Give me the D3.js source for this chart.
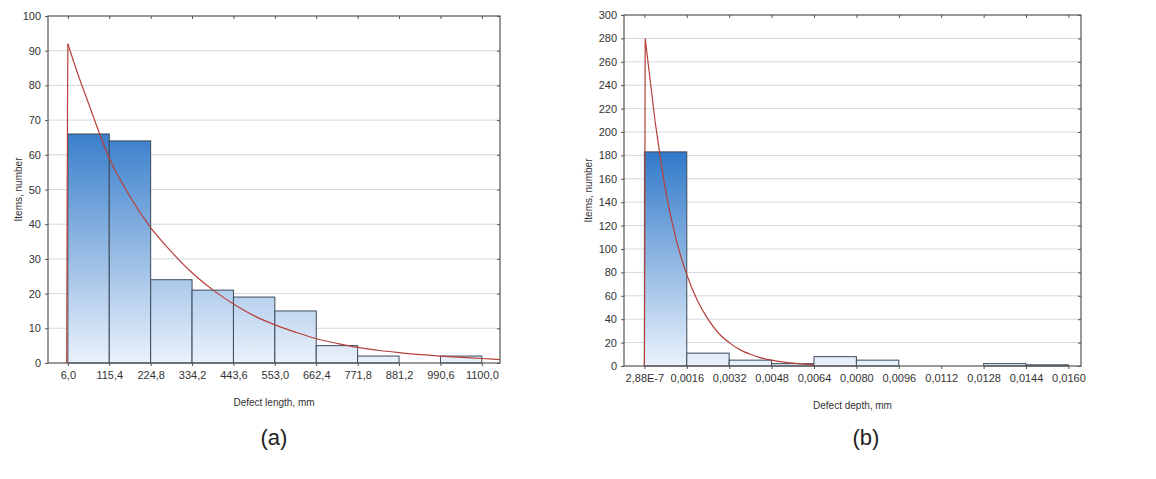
<!DOCTYPE html><html><head><meta charset="utf-8"><script src="https://cdn.jsdelivr.net/npm/d3@7"></script>
<style>body{margin:0;background:#fff}text{font-family:"Liberation Sans",Arial,sans-serif}</style></head><body>
<svg id="c" width="1156" height="479"></svg>
<script>
const ticksA = ["6,0","115,4","224,8","334,2","443,6","553,0","662,4","771,8","881,2","990,6","1100,0"];
const countsA = [66,64,24,21,19,15,5,2,0,2];
const curveA = [[3,0],[4,40],[5,72],[6,92],[30,84],[60,75],[115.4,59],[170,48],[224.8,39],[280,32],[334.2,26],[390,21],[443.6,17],[500,13.5],[553,11],[610,8.8],[662.4,7],[720,5.6],[771.8,4.5],[830,3.6],[881.2,3],[940,2.4],[990.6,2],[1050,1.6],[1100,1.3],[1148,1.0]];
const ticksB = ["2,88E-7","0,0016","0,0032","0,0048","0,0064","0,0080","0,0096","0,0112","0,0128","0,0144","0,0160"];
const countsB = [183,11,5,2,8,5,0,0,2,1];
const curveB = [[0,0],[0.00001,60],[0.00003,280],[0.0004,210],[0.0008,150],[0.0012,108],[0.0016,78],[0.002,56],[0.0024,40],[0.0028,28],[0.0032,20],[0.0036,14],[0.004,10],[0.0044,7],[0.0048,5],[0.0052,3.5],[0.0056,2.4],[0.006,1.6],[0.0064,1]];

const svg = d3.select("#c");
const defs = svg.append("defs");
function panel(o){
  const g = svg.append("g");
  const x = d3.scaleLinear().domain(o.xdom).range([o.x0,o.x1]);
  const y = d3.scaleLinear().domain([0,o.ymax]).range([o.y1,o.y0]);
  const gid = "g"+o.id;
  const lg = defs.append("linearGradient").attr("id",gid).attr("gradientUnits","userSpaceOnUse")
    .attr("x1",0).attr("x2",0).attr("y1",y(o.gtop)).attr("y2",o.y1);
  lg.append("stop").attr("offset",0).attr("stop-color","#2f78c8");
  lg.append("stop").attr("offset",1).attr("stop-color","#eaf2fb");
  g.selectAll(".gl").data(d3.range(o.step,o.ymax,o.step)).join("line")
    .attr("x1",o.x0).attr("x2",o.x1).attr("y1",d=>y(d)).attr("y2",d=>y(d)).attr("stroke","#d2d8e4").attr("stroke-width",1);
  g.selectAll(".b").data(o.counts).join("rect")
    .attr("x",(d,i)=>x(o.start+i*o.bw)).attr("width",(d,i)=>x(o.start+(i+1)*o.bw)-x(o.start+i*o.bw))
    .attr("y",d=>y(d)).attr("height",d=>o.y1-y(d))
    .attr("fill",`url(#${gid})`).attr("stroke",d=>d>0?"#3c4a5c":"none").attr("stroke-width",1);
  const pts = o.curve;
  g.append("path").datum(pts.slice(0,4)).attr("fill","none").attr("stroke","#b5403a").attr("stroke-width",1.2)
    .attr("d",d3.line().x(d=>x(d[0])).y(d=>y(d[1])));
  g.append("path").datum(pts.slice(3)).attr("fill","none").attr("stroke","#b5403a").attr("stroke-width",1.2)
    .attr("d",d3.line().curve(d3.curveMonotoneX).x(d=>x(d[0])).y(d=>y(d[1])));
  g.append("rect").attr("x",o.x0).attr("y",o.y0).attr("width",o.x1-o.x0).attr("height",o.y1-o.y0)
    .attr("fill","none").attr("stroke","#555").attr("stroke-width",1.2);
  const ya = g.append("g").attr("transform",`translate(${o.x0},0)`)
    .call(d3.axisLeft(y).tickValues(d3.range(0,o.ymax+1,o.step)).tickSize(3).tickPadding(4));
  ya.select(".domain").remove();
  ya.selectAll("text").attr("font-size",11).attr("fill","#333");
  ya.selectAll("line").attr("stroke","#555");
  g.append("g").attr("transform",`translate(${o.x1},0)`).call(d3.axisRight(y).tickValues(d3.range(0,o.ymax+1,o.step)).tickSize(-3).tickFormat(""))
    .call(s=>{s.select(".domain").remove();s.selectAll("line").attr("stroke","#555");});
  const xv = o.ticks.map((t,i)=>o.start+i*o.bw);
  const xa = g.append("g").attr("transform",`translate(0,${o.y1})`)
    .call(d3.axisBottom(x).tickValues(xv).tickFormat((d,i)=>o.ticks[i]).tickSize(3).tickPadding(5));
  xa.select(".domain").remove();
  xa.selectAll("text").attr("font-size",11).attr("fill","#333");
  xa.selectAll("line").attr("stroke","#555");
  g.append("g").attr("transform",`translate(0,${o.y0})`).call(d3.axisTop(x).tickValues(xv).tickSize(-3).tickFormat(""))
    .call(s=>{s.select(".domain").remove();s.selectAll("line").attr("stroke","#555");});
  g.append("text").attr("x",(o.x0+o.x1)/2).attr("y",o.y1+43).attr("text-anchor","middle").attr("font-size",10).attr("fill","#333").text(o.xt);
  g.append("text").attr("transform",`translate(${o.ytx},${(o.y0+o.y1)/2}) rotate(-90)`).attr("text-anchor","middle").attr("font-size",10).attr("fill","#333").text("Items, number");
  g.append("text").attr("x",o.lx).attr("y",445).attr("text-anchor","middle").attr("font-size",22).attr("fill","#222").text(o.label);
}
panel({id:"a",x0:48,x1:500,y0:16,y1:363,xdom:[-46.5,1148],ymax:100,step:10,gtop:70,start:6,bw:109.4,
  counts:countsA,curve:curveA,ticks:ticksA,xt:"Defect length, mm",ytx:22,lx:274,label:"(a)"});
panel({id:"b",x0:624,x1:1081,y0:15,y1:366,xdom:[-0.000769,0.016474],ymax:300,step:20,gtop:185,start:0,bw:0.0016,
  counts:countsB,curve:curveB,ticks:ticksB,xt:"Defect depth, mm",ytx:592,lx:866,label:"(b)"});
</script></body></html>
